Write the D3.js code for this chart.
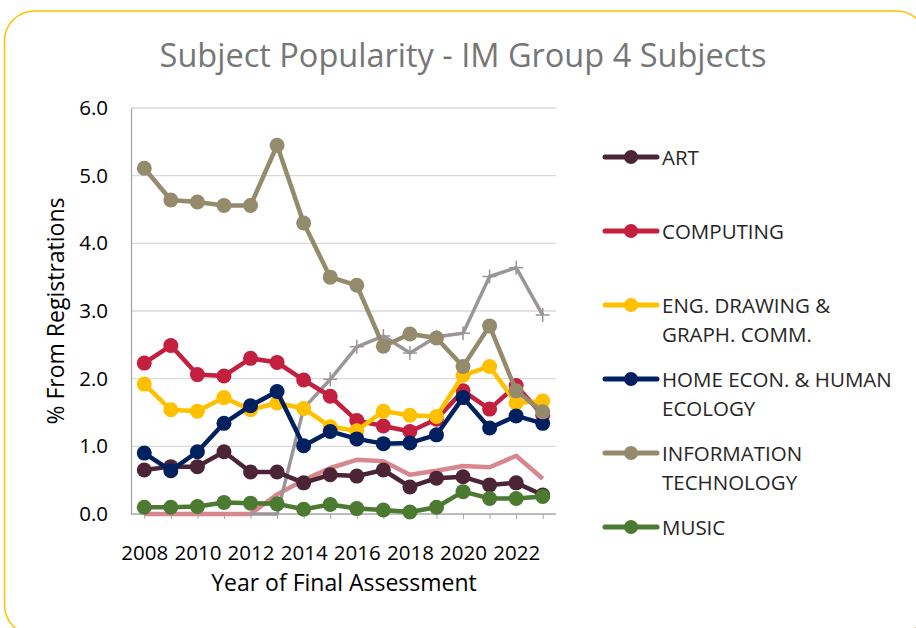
<!DOCTYPE html>
<html>
<head>
<meta charset="utf-8">
<script src="https://cdn.jsdelivr.net/npm/d3@7"></script>
<style>
  body { margin: 0; background: #fff; }
  #chart { width: 916px; height: 628px; }
  text { font-family: "Open Sans", sans-serif; }
</style>
</head>
<body>
<div id="chart"></div>
<script>
// data
const years = [2008, 2009, 2010, 2011, 2012, 2013, 2014, 2015, 2016, 2017, 2018, 2019, 2020, 2021, 2022, 2023];
const yTicks = [0, 1, 2, 3, 4, 5, 6];
const xTickLabels = [2008, 2010, 2012, 2014, 2016, 2018, 2020, 2022];

const art       = [0.65, 0.70, 0.70, 0.92, 0.62, 0.62, 0.46, 0.58, 0.56, 0.65, 0.40, 0.53, 0.55, 0.43, 0.46, 0.28];
const computing = [2.23, 2.49, 2.06, 2.04, 2.30, 2.24, 1.98, 1.74, 1.38, 1.30, 1.22, 1.40, 1.82, 1.55, 1.90, 1.46];
const engDraw   = [1.92, 1.54, 1.52, 1.72, 1.54, 1.64, 1.56, 1.29, 1.23, 1.52, 1.46, 1.44, 2.05, 2.18, 1.64, 1.67];
const homeEcon  = [0.90, 0.64, 0.92, 1.34, 1.60, 1.81, 1.01, 1.22, 1.11, 1.04, 1.05, 1.17, 1.72, 1.27, 1.45, 1.34];
const infoTech  = [5.11, 4.64, 4.61, 4.56, 4.56, 5.45, 4.30, 3.50, 3.38, 2.48, 2.66, 2.60, 2.18, 2.78, 1.82, 1.51];
const music     = [0.10, 0.10, 0.11, 0.17, 0.16, 0.15, 0.07, 0.14, 0.08, 0.06, 0.03, 0.10, 0.33, 0.23, 0.23, 0.26];
// two unlabelled series (no legend entry)
const greyPlus  = [null, null, null, null, 0, 0, 1.56, 1.99, 2.47, 2.63, 2.38, 2.62, 2.67, 3.51, 3.64, 2.94];
const pinkLine  = [0, 0, 0, 0, 0, 0.29, 0.50, 0.68, 0.80, 0.78, 0.58, 0.64, 0.71, 0.69, 0.86, 0.52];

const legendNames = [["ART"], ["COMPUTING"], ["ENG. DRAWING &", "GRAPH. COMM."],
  ["HOME ECON. & HUMAN", "ECOLOGY"], ["INFORMATION", "TECHNOLOGY"], ["MUSIC"]];

const series = [
  { values: pinkLine,  color: "#d8878f", marker: "none" },
  { values: greyPlus,  color: "#9a9598", marker: "plus" },
  { values: art,       color: "#4b2536", marker: "circle", legend: 0 },
  { values: computing, color: "#c3203f", marker: "circle", legend: 1 },
  { values: engDraw,   color: "#ffc000", marker: "circle", legend: 2 },
  { values: homeEcon,  color: "#002060", marker: "circle", legend: 3 },
  { values: infoTech,  color: "#948a6c", marker: "circle", legend: 4 },
  { values: music,     color: "#4b7a30", marker: "circle", legend: 5 }
];

const width = 916, height = 628;
const svg = d3.select("#chart").append("svg")
  .attr("width", width)
  .attr("height", height);

svg.append("rect")
  .attr("x", 4.5).attr("y", 11)
  .attr("width", 922).attr("height", 624)
  .attr("rx", 30)
  .attr("fill", "#fff")
  .attr("stroke", "#ffc000")
  .attr("stroke-width", 1.5);

svg.append("text")
  .attr("x", 463).attr("y", 67)
  .attr("text-anchor", "middle")
  .attr("fill", "#767676")
  .style("font-size", "32.5px")
  .text("Subject Popularity - IM Group 4 Subjects");

const x = d3.scalePoint().domain(years).range([131, 556]).padding(0.5);
const y = d3.scaleLinear().domain([0, 6]).range([514, 108]);

// gridlines
svg.append("g")
  .selectAll("line")
  .data(yTicks.filter(d => d > 0))
  .join("line")
  .attr("x1", 131).attr("x2", 556)
  .attr("y1", d => y(d)).attr("y2", d => y(d))
  .attr("stroke", "#d9d9d9")
  .attr("stroke-width", 1.3);

// y axis
const yAxis = svg.append("g")
  .attr("transform", "translate(131,0)")
  .call(d3.axisLeft(y).tickValues(yTicks).tickFormat(d3.format(".1f")).tickSize(0).tickPadding(23));
yAxis.select(".domain").attr("stroke", "#a6a6a6").attr("stroke-width", 1.3);
yAxis.selectAll("text").style("font-size", "20.5px").attr("fill", "#000").style("font-family", "Open Sans, sans-serif");

// x axis
const xAxis = svg.append("g")
  .attr("transform", "translate(0,514)")
  .call(d3.axisBottom(x).tickSize(5).tickPadding(26).tickFormat(d => xTickLabels.includes(d) ? d : ""));
xAxis.select(".domain").attr("stroke", "#a6a6a6").attr("stroke-width", 1.3).attr("d", "M131,0H556");
xAxis.selectAll(".tick line").attr("stroke", "#a6a6a6");
xAxis.selectAll("text").style("font-size", "20.5px").attr("fill", "#000").style("font-family", "Open Sans, sans-serif");

svg.append("text")
  .attr("x", 344).attr("y", 591)
  .attr("text-anchor", "middle")
  .style("font-size", "23px")
  .attr("fill", "#000")
  .text("Year of Final Assessment");

svg.append("text")
  .attr("transform", "translate(64,311) rotate(-90)")
  .attr("text-anchor", "middle")
  .style("font-size", "23px")
  .attr("fill", "#000")
  .text("% From Registrations");

const line = d3.line()
  .defined(d => d.v !== null)
  .x(d => x(d.year))
  .y(d => y(d.v));

const plot = svg.append("g");
series.forEach(s => {
  const pts = years.map((yr, i) => ({ year: yr, v: s.values[i] }));
  const g = plot.append("g");
  g.append("path")
    .datum(pts)
    .attr("fill", "none")
    .attr("stroke", s.color)
    .attr("stroke-width", s.marker === "plus" ? 3.5 : 4.5)
    .attr("stroke-linejoin", "round")
    .attr("d", line);
  const valid = pts.filter(d => d.v !== null);
  if (s.marker === "circle") {
    g.selectAll("circle")
      .data(valid)
      .join("circle")
      .attr("cx", d => x(d.year))
      .attr("cy", d => y(d.v))
      .attr("r", 7.5)
      .attr("fill", s.color);
  } else if (s.marker === "plus") {
    g.selectAll("path.plus")
      .data(valid.filter(d => d.v > 0))
      .join("path")
      .attr("class", "plus")
      .attr("d", d => {
        const cx = x(d.year), cy = y(d.v);
        return `M${cx - 7},${cy}H${cx + 7}M${cx},${cy - 7}V${cy + 7}`;
      })
      .attr("stroke", s.color)
      .attr("stroke-width", 1.5);
  }
});

// legend
const legendY = [157, 231, 305, 379, 453, 527];
const legend = svg.append("g");
series.filter(s => s.legend !== undefined).forEach(s => {
  const ly = legendY[s.legend];
  const lg = legend.append("g").attr("transform", `translate(0,${ly})`);
  lg.append("line")
    .attr("x1", 605).attr("x2", 657)
    .attr("stroke", s.color)
    .attr("stroke-width", 5)
    .attr("stroke-linecap", "round");
  lg.append("circle")
    .attr("cx", 631).attr("r", 7)
    .attr("fill", s.color);
  const t = lg.append("text")
    .attr("x", 662).attr("y", 7.5)
    .style("font-size", "20.5px")
    .attr("fill", "#262626");
  legendNames[s.legend].forEach((ln, i) => {
    t.append("tspan").attr("x", 662).attr("dy", i === 0 ? 0 : 29).text(ln);
  });
});
</script>
</body>
</html>
